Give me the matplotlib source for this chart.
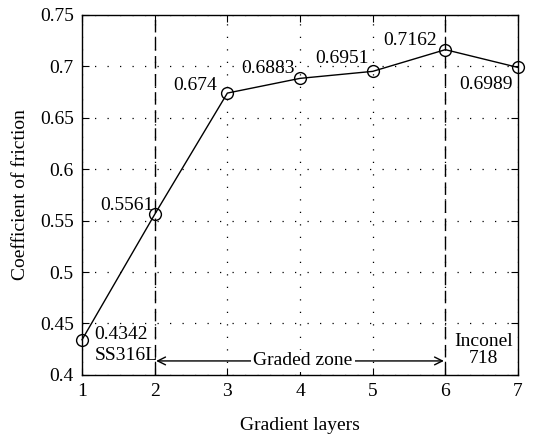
import numpy as np
import matplotlib
matplotlib.use("Agg")
import matplotlib.pyplot as plt
from matplotlib.ticker import FuncFormatter

# data
layers = [1, 2, 3, 4, 5, 6, 7]
cof = [0.4342, 0.5561, 0.674, 0.6883, 0.6951, 0.7162, 0.6989]
point_labels = ["0.4342", "0.5561", "0.674", "0.6883", "0.6951", "0.7162", "0.6989"]

plt.rcParams['font.family'] = ['Liberation Serif', 'DejaVu Serif']
plt.rcParams['font.size'] = 14

fig = plt.figure(figsize=(5.47, 4.38), dpi=100)
ax = fig.add_axes([0.150, 0.144, 0.797, 0.822])

ax.plot(layers, cof, color='black', lw=1.0, marker='o', ms=8.5,
        mfc='none', mec='black', mew=1.0, clip_on=False, zorder=3)

# label placement: (x, y, ha, va)
label_pos = [
    (1.17, 0.439, 'left', 'center'),
    (1.98, 0.565, 'right', 'center'),
    (2.86, 0.681, 'right', 'center'),
    (3.93, 0.698, 'right', 'center'),
    (4.95, 0.708, 'right', 'center'),
    (5.88, 0.725, 'right', 'center'),
    (6.93, 0.682, 'right', 'center'),
]
for lab, (x, y, ha, va) in zip(point_labels, label_pos):
    ax.text(x, y, lab, ha=ha, va=va)

# boundaries of the graded zone
for xv in (2, 6):
    ax.axvline(xv, color='black', lw=1.0, ls=(0, (9, 4)), zorder=2)

ax.text(1.17, 0.419, "SS316L", ha='left', va='center')
ax.text(6.52, 0.424, "Inconel\n718", ha='center', va='center',
        linespacing=1.0)

ax.annotate("", xy=(2.02, 0.4136), xytext=(5.98, 0.4136),
            arrowprops=dict(arrowstyle='<->', color='black', lw=1.0,
                            shrinkA=0, shrinkB=0))
ax.text(4.04, 0.4136, "Graded zone", ha='center', va='center',
        bbox=dict(facecolor='white', edgecolor='none', pad=1.5))

ax.set_xlim(1, 7)
ax.set_ylim(0.4, 0.75)
ax.set_xticks(layers)
ax.set_yticks(np.arange(0.4, 0.751, 0.05))
ax.yaxis.set_major_formatter(FuncFormatter(lambda v, p: "%g" % round(v, 2)))
ax.grid(True, color='black', lw=0.9, ls=(0, (1, 9)))
ax.tick_params(direction='in', top=True, right=True, length=5, pad=6)
for s in ax.spines.values():
    s.set_linewidth(1.0)

ax.set_xlabel("Gradient layers", labelpad=12)
ax.set_ylabel("Coefficient of friction", labelpad=8)

fig.savefig("out.png", dpi=100)
